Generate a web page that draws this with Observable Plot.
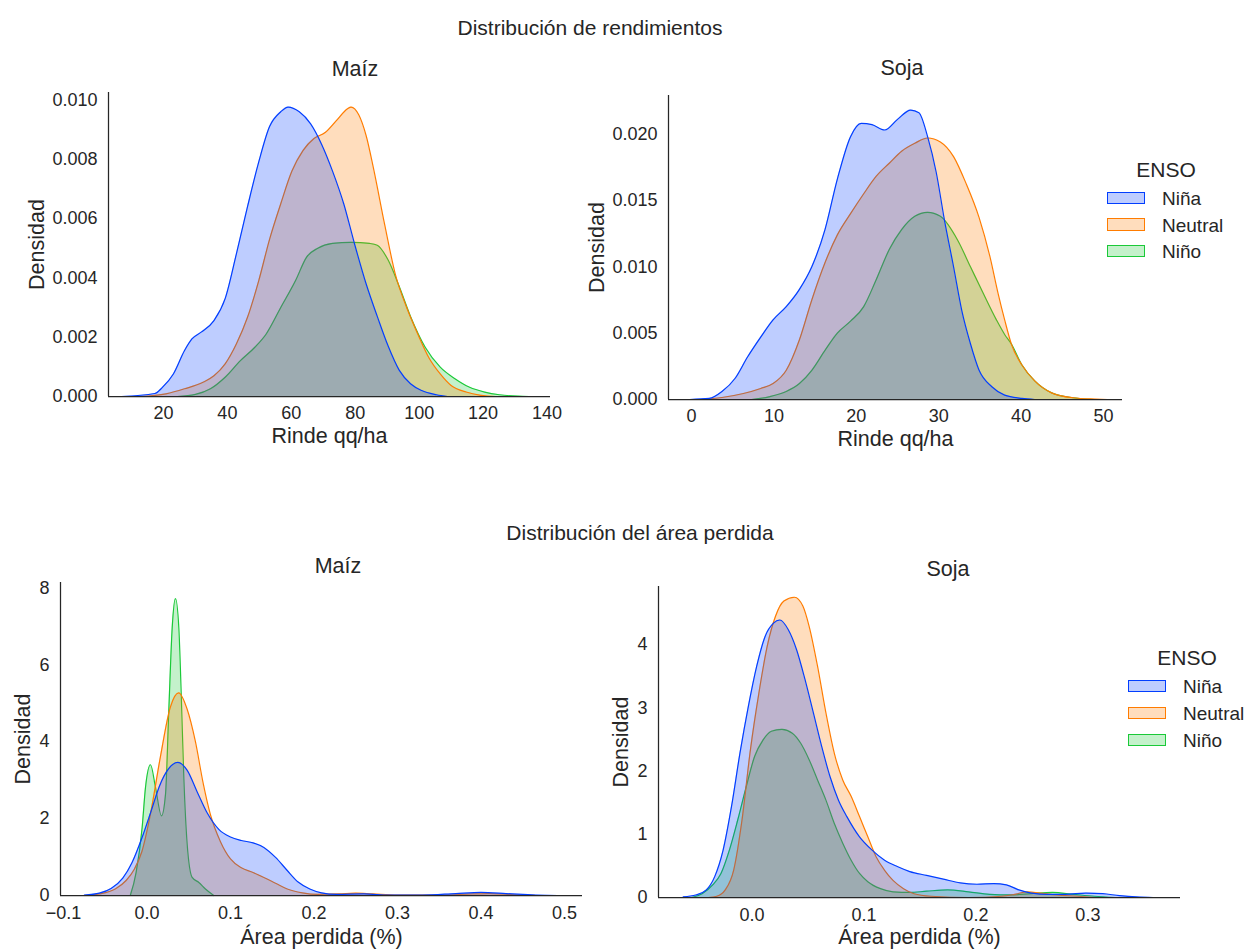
<!DOCTYPE html>
<html><head><meta charset="utf-8">
<script src="https://cdn.jsdelivr.net/npm/d3@7"></script>
<script src="https://cdn.jsdelivr.net/npm/@observablehq/plot@0.6"></script>
<style>
body{margin:0;background:#fff;}
#fig{position:relative;width:1252px;height:951px;overflow:hidden;font-family:"Liberation Sans",Arial,sans-serif;color:#262626;background:#fff;}
#fig svg{position:absolute;left:0;top:0;}
#fig svg g[aria-label="x-axis label"], #fig svg g[aria-label="y-axis label"]{font-size:21.5px;}
.t{position:absolute;transform:translate(-50%,-50%);white-space:nowrap;font-size:21.5px;line-height:1;}
.t.sup{font-size:21px;}
.lg{position:absolute;font-size:19px;line-height:1;}
.lg .ttl{position:absolute;transform:translate(-50%,-50%);white-space:nowrap;font-size:21px;}
.lg .sw{position:absolute;width:38px;height:12.5px;box-sizing:border-box;border:1.3px solid;}
.lg .lb{position:absolute;transform:translateY(-50%);white-space:nowrap;}
</style></head><body><div id="fig"></div>
<script>
const categories = ["Niña", "Neutral", "Niño"];
const palette = ["#023eff", "#ff7c00", "#1ac938"];

// ---- Maíz: rinde (qq/ha) ----
const maizRindeNinaX = [6.9,17.3,19.6,23.1,26.6,28.9,31.8,35.8,39.3,42.8,46.3,49.8,53.2,56.7,59.0,62.5,66.0,69.5,72.9,76.4,79.9,83.4,86.9,90.3,93.8,97.3,100.8,105.4,108.9];
const maizRindeNinaY = [0,0.0001,0.0003,0.00076,0.00155,0.00194,0.00217,0.00256,0.0033,0.0048,0.0064,0.0079,0.0091,0.0096,0.00976,0.0096,0.0092,0.0085,0.0076,0.0065,0.0051,0.0038,0.0027,0.0017,0.00088,0.00043,0.0002,0.00006,0];
const maizRindeNeutralX = [12.7,20.8,26.6,32.4,35.8,39.3,42.8,46.3,49.8,53.2,56.7,60.2,63.7,67.1,70.6,74.1,77.6,78.7,81.1,83.4,85.7,89.2,92.6,96.1,99.6,103.1,106.6,110.0,114.7,119.3,123.9];
const maizRindeNeutralY = [0,0.00009,0.00026,0.00048,0.0007,0.0011,0.00177,0.00267,0.0039,0.0053,0.0065,0.0076,0.0083,0.0087,0.0089,0.0093,0.0097,0.00976,0.0095,0.0088,0.0077,0.0058,0.0041,0.0030,0.0021,0.0013,0.00076,0.00037,0.00015,0.00004,0];
const maizRindeNinoX = [24.3,30.0,34.7,39.3,44.0,48.6,52.1,56.7,61.3,64.8,68.3,72.9,78.7,84.5,86.9,90.3,93.8,97.3,101.9,106.6,111.2,115.8,120.5,125.1,130.9,134.4];
const maizRindeNinoY = [0,0.00007,0.00026,0.00065,0.0012,0.00166,0.0021,0.0030,0.0039,0.0047,0.0050,0.00516,0.0052,0.00516,0.0051,0.0046,0.0037,0.0027,0.00166,0.00099,0.0006,0.00031,0.00015,0.00006,0.00001,0];

// ---- Soja: rinde (qq/ha) ----
const sojaRindeNinaX = [-0.2,2.15,3.7,5.3,6.8,8.4,9.9,11.5,13.1,14.6,16.2,17.7,19.3,20.6,21.9,23.45,25.0,26.6,27.6,28.65,29.7,30.7,31.8,32.8,33.85,34.9,36.45,38.0,40.1,41.65];
const sojaRindeNinaY = [0,0.00008,0.0006,0.0016,0.0032,0.0047,0.0060,0.0070,0.0083,0.0100,0.0128,0.0166,0.0198,0.0208,0.0207,0.0203,0.0211,0.0218,0.0216,0.0198,0.0171,0.0135,0.0100,0.0067,0.0042,0.0022,0.00096,0.00033,0.00008,0];
const sojaRindeNeutralX = [1.1,3.7,6.3,8.4,9.9,11.5,13.1,14.6,16.2,17.7,19.3,20.9,22.4,24.0,25.5,27.1,28.65,30.2,31.8,33.3,34.9,36.2,37.2,38.0,38.8,40.1,41.65,43.7,46.3,48.9,50.5];
const sojaRindeNeutralY = [0,0.00015,0.00045,0.00083,0.0012,0.0022,0.0045,0.0075,0.0103,0.0124,0.0140,0.0155,0.0168,0.0178,0.0187,0.0193,0.0197,0.0194,0.0183,0.0163,0.0137,0.0108,0.0080,0.0060,0.0042,0.0026,0.0014,0.0005,0.00013,0.00003,0];
const sojaRindeNinoX = [7.3,9.4,11.5,13.1,14.6,16.2,17.7,19.3,20.9,22.4,24.0,25.5,27.1,28.65,30.2,32.3,33.85,35.4,37.0,38.0,38.8,40.1,41.65,43.7,46.3,48.9];
const sojaRindeNinoY = [0,0.0002,0.0006,0.0012,0.0022,0.0037,0.0050,0.0059,0.0070,0.0090,0.0113,0.0128,0.0138,0.0141,0.0138,0.0120,0.0100,0.0080,0.0060,0.0049,0.0042,0.0026,0.0014,0.0005,0.00013,0];

// ---- Maíz: área perdida ----
const maizAreaNinaX = [-0.075,-0.057,-0.043,-0.029,-0.018,-0.006,0.005,0.015,0.026,0.037,0.048,0.06,0.072,0.086,0.1,0.113,0.127,0.14,0.154,0.168,0.181,0.195,0.209,0.227,0.26,0.29,0.33,0.37,0.40,0.43,0.465,0.492];
const maizAreaNinaY = [0.01,0.06,0.18,0.45,0.85,1.5,2.2,2.85,3.3,3.46,3.26,2.7,2.15,1.72,1.52,1.43,1.37,1.25,0.99,0.65,0.35,0.17,0.07,0.03,0.04,0.01,0.01,0.05,0.08,0.05,0.01,0];
const maizAreaNeutralX = [-0.075,-0.057,-0.038,-0.025,-0.015,-0.006,0.004,0.016,0.028,0.038,0.048,0.058,0.067,0.076,0.088,0.1,0.113,0.127,0.14,0.154,0.168,0.186,0.204,0.23,0.25,0.27,0.30,0.35,0.39,0.41,0.44,0.465];
const maizAreaNeutralY = [0,0.04,0.17,0.39,0.69,1.15,2.1,3.6,4.9,5.27,4.85,4.0,2.95,2.1,1.4,0.95,0.72,0.6,0.47,0.32,0.17,0.07,0.03,0.04,0.06,0.04,0.01,0.01,0.04,0.05,0.02,0];
const maizAreaNinoX = [-0.02,-0.013,-0.0058,-0.0018,0.0042,0.0102,0.0174,0.0222,0.0261,0.0302,0.0341,0.0381,0.041,0.0441,0.0481,0.0541,0.0621,0.070,0.080];
const maizAreaNinoY = [0,0.6,1.77,2.81,3.40,2.81,2.07,2.64,4.80,6.97,7.72,6.97,5.24,3.07,1.34,0.47,0.34,0.17,0];

// ---- Soja: área perdida ----
const sojaAreaNinaX = [-0.0613,-0.05,-0.0407,-0.0332,-0.0257,-0.0182,-0.0107,-0.0032,0.0043,0.0118,0.0193,0.0249,0.0324,0.0399,0.0474,0.0549,0.0623,0.0698,0.0773,0.0848,0.0961,0.1073,0.1185,0.1298,0.141,0.156,0.171,0.186,0.201,0.216,0.2272,0.2384,0.2496,0.2646,0.2796,0.2983,0.3133,0.3283,0.3433,0.3583];
const sojaAreaNinaY = [0.01,0.04,0.12,0.33,0.75,1.44,2.28,3.02,3.66,4.13,4.34,4.39,4.24,3.92,3.45,2.92,2.39,1.91,1.54,1.28,0.96,0.75,0.59,0.49,0.41,0.35,0.29,0.23,0.21,0.22,0.20,0.12,0.07,0.05,0.05,0.07,0.06,0.03,0.01,0];
const sojaAreaNeutralX = [-0.0388,-0.0313,-0.0238,-0.0163,-0.0088,-0.0013,0.0062,0.0136,0.0211,0.0286,0.038,0.0455,0.0511,0.0586,0.0661,0.0736,0.0811,0.0886,0.0961,0.1035,0.111,0.1185,0.126,0.1354,0.1448,0.1597,0.1935,0.2234,0.2346,0.2459,0.2571,0.2721,0.2908,0.3058];
const sojaAreaNeutralY = [0,0.02,0.12,0.43,1.23,2.34,3.23,3.97,4.45,4.69,4.75,4.61,4.29,3.66,2.92,2.28,1.86,1.60,1.28,0.96,0.64,0.43,0.27,0.14,0.06,0.02,0,0.02,0.05,0.09,0.07,0.04,0.02,0];
const sojaAreaNinoX = [-0.0538,-0.0444,-0.035,-0.0276,-0.0201,-0.0126,-0.0051,0.0024,0.0099,0.0174,0.0268,0.0361,0.0436,0.0511,0.0586,0.0661,0.0736,0.0811,0.0886,0.0961,0.1035,0.1148,0.126,0.141,0.156,0.1747,0.1934,0.2122,0.231,0.2496,0.2683,0.287,0.3058,0.3246];
const sojaAreaNinoY = [0,0.06,0.2,0.38,0.75,1.23,1.75,2.23,2.49,2.63,2.66,2.60,2.44,2.18,1.86,1.54,1.17,0.86,0.59,0.38,0.25,0.14,0.09,0.08,0.10,0.12,0.09,0.05,0.04,0.06,0.08,0.05,0.02,0];

// tick values
const maizRindeXTicks = [20,40,60,80,100,120,140];
const maizRindeYTicks = [0,0.002,0.004,0.006,0.008,0.010];
const sojaRindeXTicks = [0,10,20,30,40,50];
const sojaRindeYTicks = [0,0.005,0.010,0.015,0.020];
const maizAreaXTicks = [-0.1,0,0.1,0.2,0.3,0.4,0.5];
const maizAreaYTicks = [0,2,4,6,8];
const sojaAreaXTicks = [0,0.1,0.2,0.3];
const sojaAreaYTicks = [0,1,2,3,4];

const W = 1252, H = 951;
const fig = document.getElementById("fig");

function rows(xs, ys){ return xs.map((x,i)=>({x, y: ys[i]})); }

function panel(o){
  const [x0,y0,x1,y1] = o.frame;
  const marks = [];
  // draw Niño first, then Neutral, then Niña on top (seaborn layering)
  for (let k = 2; k >= 0; k--) {
    const d = rows(o.series[k][0], o.series[k][1]);
    marks.push(Plot.areaY(d, {x:"x", y:"y", fill: palette[k], fillOpacity: 0.26, curve: "monotone-x"}));
    marks.push(Plot.lineY(d, {x:"x", y:"y", stroke: palette[k], strokeWidth: 1.2, curve: "monotone-x"}));
  }
  marks.push(Plot.axisX({ticks: o.xTicks, tickSize: 0, tickPadding: o.xPad, tickFormat: o.xFormat,
    label: o.xLabel, labelAnchor: "center", labelOffset: o.xLabelOffset, labelArrow: "none"}));
  marks.push(Plot.axisY({ticks: o.yTicks, tickSize: 0, tickPadding: 11, tickFormat: o.yFormat,
    label: "Densidad", labelAnchor: "center", labelOffset: o.yLabelOffset, labelArrow: "none"}));
  marks.push(Plot.ruleX([o.xDomain[0]], {stroke: "#262626", strokeWidth: 1.25}));
  marks.push(Plot.ruleY([0], {stroke: "#262626", strokeWidth: 1.25}));
  const svg = Plot.plot({
    width: W, height: H,
    marginLeft: x0, marginTop: y0, marginRight: W - x1, marginBottom: H - y1,
    style: {background: "transparent", fontFamily: '"Liberation Sans", Arial, sans-serif', fontSize: "18px", color: "#262626", overflow: "visible"},
    x: {domain: o.xDomain},
    y: {domain: o.yDomain},
    marks
  });
  fig.appendChild(svg);
}

panel({frame:[108,92,550,396], xDomain:[2.8,141.1], yDomain:[0,0.01025],
  xTicks: maizRindeXTicks, yTicks: maizRindeYTicks, xFormat: d3.format("d"), yFormat: d3.format(".3f"),
  xLabel: "Rinde qq/ha", xPad: 10, xLabelOffset: 46, yLabelOffset: 80,
  series: [[maizRindeNinaX, maizRindeNinaY],[maizRindeNeutralX, maizRindeNeutralY],[maizRindeNinoX, maizRindeNinoY]]});

panel({frame:[668,95,1122,399], xDomain:[-2.79,52.3], yDomain:[0,0.0229],
  xTicks: sojaRindeXTicks, yTicks: sojaRindeYTicks, xFormat: d3.format("d"), yFormat: d3.format(".3f"),
  xLabel: "Rinde qq/ha", xPad: 10, xLabelOffset: 46, yLabelOffset: 80,
  series: [[sojaRindeNinaX, sojaRindeNinaY],[sojaRindeNeutralX, sojaRindeNeutralY],[sojaRindeNinoX, sojaRindeNinoY]]});

panel({frame:[60,582,582,895], xDomain:[-0.1036,0.5216], yDomain:[0,8.14],
  xTicks: maizAreaXTicks, yTicks: maizAreaYTicks, xFormat: d3.format(".1f"), yFormat: d3.format("d"),
  xLabel: "Área perdida (%)", xPad: 11, xLabelOffset: 48.5, yLabelOffset: 46,
  series: [[maizAreaNinaX, maizAreaNinaY],[maizAreaNeutralX, maizAreaNeutralY],[maizAreaNinoX, maizAreaNinoY]]});

panel({frame:[658,586,1180,897], xDomain:[-0.0834,0.3827], yDomain:[0,4.92],
  xTicks: sojaAreaXTicks, yTicks: sojaAreaYTicks, xFormat: d3.format(".1f"), yFormat: d3.format("d"),
  xLabel: "Área perdida (%)", xPad: 11, xLabelOffset: 46.5, yLabelOffset: 46,
  series: [[sojaAreaNinaX, sojaAreaNinaY],[sojaAreaNeutralX, sojaAreaNeutralY],[sojaAreaNinoX, sojaAreaNinoY]]});

// titles
const texts = [
  ["Distribución de rendimientos", 590, 27, "t sup"],
  ["Maíz", 355, 70, "t"], ["Soja", 902, 69, "t"],
  ["Distribución del área perdida", 640, 532, "t sup"],
  ["Maíz", 338, 567, "t"], ["Soja", 948, 570, "t"]
];
for (const [s,x,y,c] of texts){
  const d = document.createElement("div"); d.className = c; d.textContent = s;
  d.style.left = x + "px"; d.style.top = y + "px"; fig.appendChild(d);
}

// legends
function legend(px, titleY, rowYs){
  const lg = document.createElement("div"); lg.className = "lg"; lg.style.left = "0px"; lg.style.top = "0px";
  const t = document.createElement("div"); t.className = "ttl"; t.textContent = "ENSO";
  t.style.left = (px + 59) + "px"; t.style.top = titleY + "px"; lg.appendChild(t);
  categories.forEach((c,i)=>{
    const sw = document.createElement("div"); sw.className = "sw";
    const col = d3.color(palette[i]); const f = d3.color(palette[i]); f.opacity = 0.26;
    sw.style.left = px + "px"; sw.style.top = (rowYs[i] - 6.25) + "px";
    sw.style.borderColor = col.formatHex(); sw.style.background = f.formatRgb();
    lg.appendChild(sw);
    const lb = document.createElement("div"); lb.className = "lb"; lb.textContent = c;
    lb.style.left = (px + 55) + "px"; lb.style.top = rowYs[i] + "px";
    lg.appendChild(lb);
  });
  fig.appendChild(lg);
}
legend(1107, 169, [198, 224.7, 251]);
legend(1128, 657, [686, 713, 740]);
</script></body></html>
